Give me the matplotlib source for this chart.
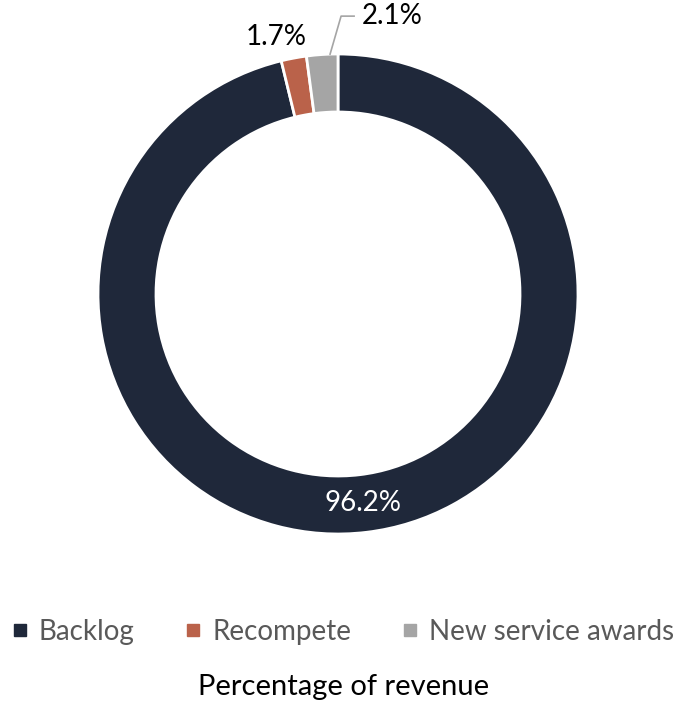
import matplotlib
matplotlib.use("Agg")
import matplotlib.pyplot as plt
from matplotlib.lines import Line2D
import numpy as np

categories = ["Backlog", "Recompete", "New service awards"]
values = [96.2, 1.7, 2.1]
labels = ["96.2%", "1.7%", "2.1%"]
colors = ["#1F283A", "#BA624A", "#A5A5A5"]
title = "Percentage of revenue"

plt.rcParams['font.family'] = ['Lato', 'DejaVu Sans']

W, H = 680, 702
fig = plt.figure(figsize=(W / 100, H / 100), dpi=100)
ax = fig.add_axes([0, 0, 1, 1])

cx, cy = 338, H - 294
R, ring = 240, 58
wedges, _ = ax.pie(values, colors=colors, startangle=90, counterclock=False,
                   radius=R, center=(cx, cy),
                   wedgeprops=dict(width=ring, edgecolor='white', linewidth=2))
ax.set_xlim(0, W)
ax.set_ylim(0, H)
ax.set_aspect('equal')
ax.axis('off')

fs = 20

def pt(angle, r):
    a = np.deg2rad(angle)
    return cx + r * np.cos(a), cy + r * np.sin(a)

# Backlog label inside ring
w = wedges[0]
mid = (w.theta1 + w.theta2) / 2
x, y = pt(mid, R - ring / 2)
ax.text(x, y, labels[0], color='white', fontsize=fs, ha='center', va='center')

# Recompete label outside
w = wedges[1]
mid = (w.theta1 + w.theta2) / 2
x, y = pt(mid, R)
ax.text(x - 18, y + 21, labels[1], color='black', fontsize=fs, ha='center', va='center')

# New service awards label with leader line
w = wedges[2]
a = w.theta1 + 0.25 * (w.theta2 - w.theta1)
x0, y0 = pt(a, R)
x1, y1 = x0 + 11, y0 + 38
x2, y2 = x1 + 13, y1
ax.add_line(Line2D([x0, x1, x2], [y0, y1, y2], color='#A5A5A5', lw=1.2))
ax.text(x2 + 8, y2, labels[2], color='black', fontsize=fs, ha='left', va='center')

handles = [Line2D([], [], marker='s', linestyle='none', markersize=8,
                  markerfacecolor=c, markeredgecolor=c) for c in colors]
leg = fig.legend(handles, categories, loc='center', bbox_to_anchor=(0.5, 1 - 632 / H),
                 ncol=3, frameon=False, fontsize=fs, handletextpad=0.2,
                 columnspacing=1.6, handlelength=1.0, borderaxespad=0)
for t in leg.get_texts():
    t.set_color('#595959')

fig.text(0.505, 1 - 687 / H, title, ha='center', va='center', fontsize=21, color='black')

fig.savefig("out.png", dpi=100)
